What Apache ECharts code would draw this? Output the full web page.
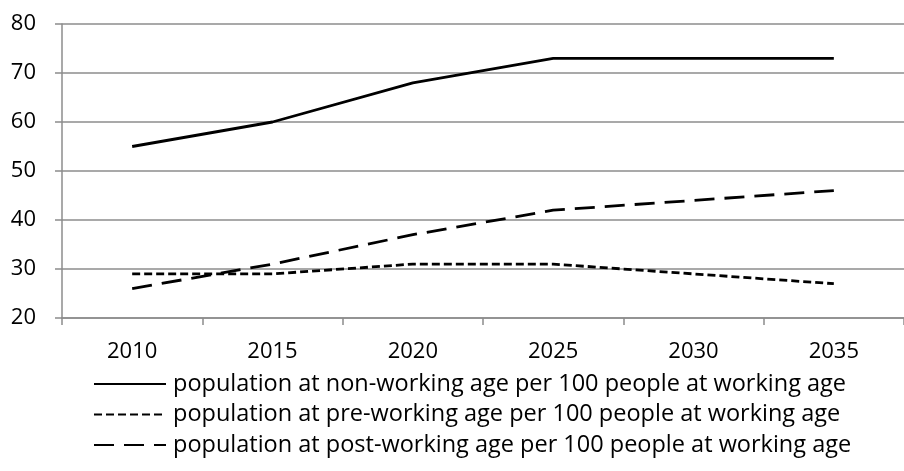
<!DOCTYPE html>
<html><head><meta charset="utf-8">
<script src="https://cdn.jsdelivr.net/npm/echarts@6/dist/echarts.min.js"></script>
<style>html,body{margin:0;padding:0;background:#fff}#c{width:904px;height:471px}</style>
</head><body><div id="c"></div>
<script>
const years = ['2010','2015','2020','2025','2030','2035'];
const nonWorking = [55, 60, 68, 73, 73, 73];
const preWorking = [29, 29, 31, 31, 29, 27];
const postWorking = [26, 31, 37, 42, 44, 46];
const names = [
  'population at non-working age per 100 people at working age',
  'population at pre-working age per 100 people at working age',
  'population at post-working age per 100 people at working age'
];
const font = '"Open Sans", sans-serif';
const chart = echarts.init(document.getElementById('c'));
function mk(name, data, type) {
  return {name, type:'line', data, symbol:'none', showSymbol:false, smooth:false,
    lineStyle:{color:'#000', width:2.8, type:type, cap:'butt'},
    itemStyle:{color:'#000'}, animation:false};
}
chart.setOption({
  animation:false,
  grid:{left:62, top:24, width:849, height:294, containLabel:false},
  xAxis:{type:'category', data:years, boundaryGap:true,
    axisLine:{lineStyle:{color:'#8c8c8c', width:1.5}},
    axisTick:{show:true, length:7, lineStyle:{color:'#8c8c8c', width:1.5}},
    axisLabel:{color:'#000', fontSize:22, fontFamily:font, margin:23}},
  yAxis:{type:'value', min:20, max:80, interval:10,
    axisLine:{show:true, lineStyle:{color:'#8c8c8c', width:1.5}},
    axisTick:{show:true, length:7, lineStyle:{color:'#8c8c8c', width:1.5}},
    splitLine:{lineStyle:{color:'#8c8c8c', width:1.5}},
    axisLabel:{color:'#000', fontSize:22, fontFamily:font, margin:26}},
  legend:{orient:'vertical', left:93, top:372, height:99, padding:0,
    itemWidth:72, itemHeight:24, itemGap:6.5,
    itemStyle:{opacity:0},
    textStyle:{color:'#000', fontSize:23.5, fontFamily:font, padding:[0,0,0,2]},
    data:names},
  series:[
    mk(names[0], nonWorking, 'solid'),
    mk(names[1], preWorking, [8,4]),
    mk(names[2], postWorking, [20,10])
  ]
});
</script></body></html>
